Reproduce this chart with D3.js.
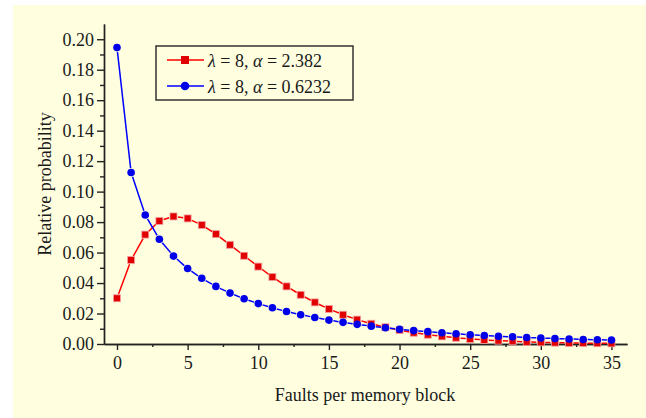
<!DOCTYPE html>
<html>
<head>
<meta charset="utf-8">
<script src="https://cdn.jsdelivr.net/npm/d3@7"></script>
<style>
  body { margin: 0; background: #fff; }
  svg text { font-family: "Liberation Serif", "Times New Roman", serif; fill: #1a1a1a; }
</style>
</head>
<body>
<svg width="646" height="418"></svg>
<script>
// data: faults per memory block (k) and relative probability
const faults = d3.range(0, 36);
const probA = [0.0300, 0.0551, 0.0718, 0.0808, 0.0837, 0.0824, 0.0781, 0.0721, 0.0651, 0.0579,
  0.0508, 0.0440, 0.0378, 0.0323, 0.0273, 0.0230, 0.0192, 0.0160, 0.0133, 0.0110,
  0.0091, 0.0074, 0.0061, 0.0050, 0.0041, 0.0033, 0.0027, 0.0022, 0.0018, 0.0014,
  0.0011, 0.0009, 0.0007, 0.0006, 0.0005, 0.0004];
const probB = [0.1945, 0.1125, 0.0847, 0.0687, 0.0577, 0.0495, 0.0431, 0.0378, 0.0334, 0.0297,
  0.0265, 0.0238, 0.0213, 0.0192, 0.0174, 0.0157, 0.0142, 0.0129, 0.0117, 0.0107,
  0.0097, 0.0088, 0.0081, 0.0074, 0.0067, 0.0061, 0.0056, 0.0051, 0.0047, 0.0043,
  0.0039, 0.0036, 0.0033, 0.0030, 0.0028, 0.0026];
const seriesNames = ["2.382", "0.6232"];
const yTicks = d3.range(0, 0.201, 0.02);
const xTicks = [0, 5, 10, 15, 20, 25, 30, 35];

const svg = d3.select("svg");

// background panel
svg.append("rect")
  .attr("x", 13).attr("y", 5)
  .attr("width", 633).attr("height", 413)
  .attr("fill", "#ffffe0");

const x = d3.scaleLinear().domain([-0.92, 36.1]).range([104, 627]);
const y = d3.scaleLinear().domain([0, 0.21]).range([344, 24]);

// axes
const leftAxis = d3.axisLeft(y)
  .tickValues(yTicks)
  .tickSizeInner(7)
  .tickSizeOuter(0)
  .tickPadding(3)
  .tickFormat(d3.format(".2f"));
const leftMinor = d3.axisLeft(y)
  .tickValues(d3.range(0.01, 0.21, 0.02))
  .tickSizeInner(4).tickSizeOuter(0)
  .tickFormat("");

svg.append("g").attr("class", "left axis")
  .attr("transform", "translate(104,0)")
  .call(leftAxis);
svg.append("g").attr("class", "left minor")
  .attr("transform", "translate(104,0)")
  .call(leftMinor);

const bottomAxis = d3.axisBottom(x)
  .tickValues(xTicks)
  .tickSizeInner(6).tickSizeOuter(0)
  .tickPadding(6)
  .tickFormat(d3.format("d"));
const bottomMinor = d3.axisBottom(x)
  .tickValues(d3.range(2.5, 36, 5))
  .tickSizeInner(3).tickSizeOuter(0)
  .tickFormat("");

svg.append("g").attr("class", "bottom axis")
  .attr("transform", "translate(0,344)")
  .call(bottomAxis);
svg.append("g").attr("class", "bottom minor")
  .attr("transform", "translate(0,344)")
  .call(bottomMinor);

svg.selectAll(".axis text, .minor text")
  .attr("font-size", "18px");
svg.selectAll(".axis path, .axis line, .minor path, .minor line")
  .attr("stroke", "#222")
  .attr("stroke-width", 1.4);

// axis labels
svg.append("text")
  .attr("transform", "translate(51,184) rotate(-90)")
  .attr("text-anchor", "middle")
  .attr("font-size", "18px")
  .text("Relative probability");

svg.append("text")
  .attr("x", 365).attr("y", 401)
  .attr("text-anchor", "middle")
  .attr("font-size", "18px")
  .text("Faults per memory block");

// series: segments with a small gap around each marker
function drawSeries(vals, color, gap) {
  const pts = faults.map((k, i) => [x(k), y(vals[i])]);
  const g = svg.append("g");
  for (let i = 0; i < pts.length - 1; i++) {
    const [x0, y0] = pts[i], [x1, y1] = pts[i + 1];
    const len = Math.hypot(x1 - x0, y1 - y0);
    if (len <= 2 * gap) continue;
    const ux = (x1 - x0) / len, uy = (y1 - y0) / len;
    g.append("line")
      .attr("x1", x0 + ux * gap).attr("y1", y0 + uy * gap)
      .attr("x2", x1 - ux * gap).attr("y2", y1 - uy * gap)
      .attr("stroke", color)
      .attr("stroke-width", 1.5);
  }
  return pts;
}

const ptsA = drawSeries(probA, "#ff0000", 4.5);
const ptsB = drawSeries(probB, "#0000ff", 4.5);

svg.append("g").selectAll("rect")
  .data(ptsA)
  .join("rect")
  .attr("x", d => d[0] - 3.5).attr("y", d => d[1] - 3.5)
  .attr("width", 7).attr("height", 7)
  .attr("fill", "#e00000")
  .attr("stroke", "#f4a0a0")
  .attr("stroke-width", 0.8);

svg.append("g").selectAll("circle")
  .data(ptsB)
  .join("circle")
  .attr("cx", d => d[0]).attr("cy", d => d[1])
  .attr("r", 3.8)
  .attr("fill", "#0000e8");

// legend
const legend = svg.append("g").attr("class", "legend");
legend.append("rect")
  .attr("x", 156).attr("y", 46)
  .attr("width", 197).attr("height", 54)
  .attr("fill", "none")
  .attr("stroke", "#333")
  .attr("stroke-width", 1.5);

const legendRows = [
  { color: "#ff0000", shape: "square", alpha: seriesNames[0], cy: 60 },
  { color: "#0000ff", shape: "circle", alpha: seriesNames[1], cy: 86 }
];
legendRows.forEach(r => {
  legend.append("line")
    .attr("x1", 167).attr("x2", 204)
    .attr("y1", r.cy).attr("y2", r.cy)
    .attr("stroke", r.color).attr("stroke-width", 1.5);
  if (r.shape === "square") {
    legend.append("rect")
      .attr("x", 181).attr("y", r.cy - 4)
      .attr("width", 8).attr("height", 8)
      .attr("fill", "#e00000");
  } else {
    legend.append("circle")
      .attr("cx", 185).attr("cy", r.cy).attr("r", 4.3)
      .attr("fill", "#0000e8");
  }
  const t = legend.append("text")
    .attr("x", 208).attr("y", r.cy + 7)
    .attr("font-size", "18px");
  t.append("tspan").attr("font-style", "italic").text("λ");
  t.append("tspan").text(" = 8, ");
  t.append("tspan").attr("font-style", "italic").text("α");
  t.append("tspan").text(" = " + r.alpha);
});
</script>
</body>
</html>
